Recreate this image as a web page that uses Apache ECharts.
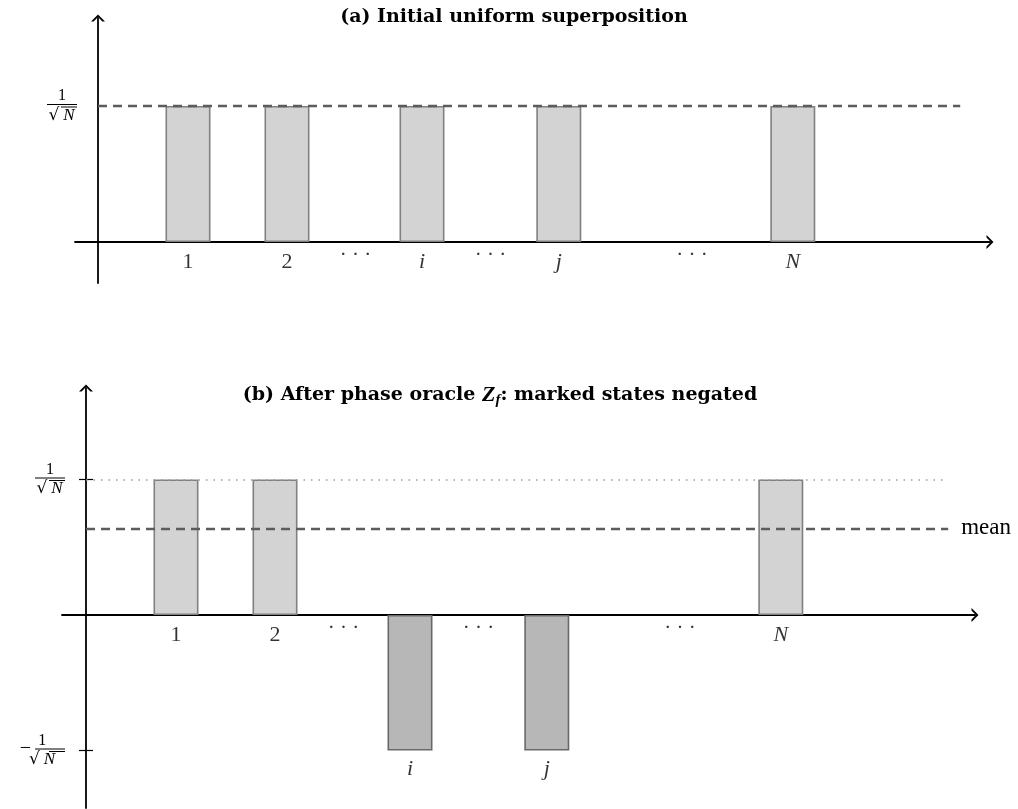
<!DOCTYPE html>
<html><head><meta charset="utf-8">
<script src="https://cdn.jsdelivr.net/npm/echarts@6/dist/echarts.min.js"></script>
<style>html,body{margin:0;padding:0;background:#fff}#c{width:1018px;height:809px}</style>
</head><body><div id="c"></div>
<script>
// ---- data ----
const categories = ['1', '2', 'i', 'j', 'N'];
const positions = [1, 2.1, 3.6, 5.12, 7.72];
const amplitudesA = [1, 1, 1, 1, 1];
const amplitudesB = [1, 1, -1, -1, 1];
const ellipsisPositions = [2.86, 4.36, 6.6];
const uniformLevel = 1;
const meanLevel = 0.64;
const yTickValuesA = [1];
const yTickValuesB = [1, -1];
const titleA = '(a) Initial uniform superposition';
const titleB = ['(b) After phase oracle ', 'Z', 'f', ': marked states negated'];
const meanLabel = 'mean';

// ---- style / layout ----
const SERIF = 'Liberation Serif';
const TSERIF = 'DejaVu Serif';
const LINE_END = 9.58, DOT_END = 9.52;
const PA = {left: 75, top: 18, width: 915, height: 265, xMin: -23/90, xMax: 892/90, yMin: -41/136, yMax: 224/136, yOff: -23};
const PB = {left: 62, top: 388, width: 913, height: 420, xMin: -24/90, xMax: 889/90, yMin: -193/135.5, yMax: 227/135.5, yOff: -24};
const arrow = 'path://M0 7 L7 0 L14 7 L11.4 7 L7 2.6 L2.6 7 Z';
const axisLine = {show: true, onZero: true, symbol: ['none', arrow], symbolSize: [14, 7], lineStyle: {color: '#000', width: 1.8}};
const lightBar = {color: '#d3d3d3', borderColor: '#808080', borderWidth: 1.6};
const darkBar = {color: '#b7b7b7', borderColor: '#686868', borderWidth: 1.6};

const fracRich = {
  n: {fontFamily: SERIF, fontSize: 16, width: 30, align: 'center', lineHeight: 14, color: '#000'},
  bar: {width: 30, height: 1, backgroundColor: '#000', lineHeight: 3},
  sp: {width: 14, height: 1, lineHeight: 2},
  ov: {width: 16, height: 1, backgroundColor: '#000', lineHeight: 2},
  r: {fontFamily: 'DejaVu Serif', fontSize: 17, width: 14, align: 'right', lineHeight: 15, color: '#000'},
  v: {fontFamily: SERIF, fontSize: 17, fontStyle: 'italic', width: 16, align: 'left', lineHeight: 15, color: '#000'},
  m: {fontFamily: SERIF, fontSize: 20, lineHeight: 3, padding: [0, 4, 0, 0], color: '#000'}
};
function fracLabel(v) {
  return '{n|1}\n' + (v < 0 ? '{m|−}' : '') + '{bar|}\n{sp|}{ov|}\n{r|√}{v|N}';
}
const labelRich = {
  up: {fontFamily: SERIF, fontSize: 22, color: '#000'},
  it: {fontFamily: SERIF, fontSize: 22, fontStyle: 'italic', color: '#000'},
  dots: {fontFamily: SERIF, fontSize: 21, color: '#000'}
};
function catText(c) { return /[A-Za-z]/.test(c) ? '{it|' + c + '}' : '{up|' + c + '}'; }

function barData(amps) {
  return positions.map((p, k) => ({value: [p, amps[k]], itemStyle: amps[k] < 0 ? darkBar : lightBar}));
}
function labelData(amps) {
  return positions.map((p, k) => ({value: [p, Math.min(0, amps[k])], name: categories[k],
    label: {offset: [0, amps[k] < 0 ? 19 : 20]}}));
}
function dotsData() { return ellipsisPositions.map(p => ({value: [p, 0], name: '· · ·'})); }

function xAx(P, gi) {
  return {type: 'value', gridIndex: gi, min: P.xMin, max: P.xMax, axisLine: Object.assign({}, axisLine),
    axisTick: {show: false}, axisLabel: {show: false}, splitLine: {show: false}};
}
function yAx(P, gi, ticks, showTick) {
  return {type: 'value', gridIndex: gi, min: P.yMin, max: P.yMax, position: 'left', offset: P.yOff,
    axisLine: Object.assign({}, axisLine, {onZero: false}),
    axisTick: {show: showTick, customValues: ticks, length: 7, inside: false, lineStyle: {color: '#000', width: 1.2}},
    axisLabel: {show: true, customValues: ticks, margin: 21, formatter: fracLabel, rich: fracRich},
    splitLine: {show: false}};
}
function labelSeries(xi, data) {
  return {type: 'scatter', xAxisIndex: xi, yAxisIndex: xi === 0 ? 0 : 1, data: data, symbol: 'circle', symbolSize: 1,
    itemStyle: {color: 'rgba(0,0,0,0)'}, silent: true, z: 5,
    label: {show: true, position: 'inside', formatter: p => catText(p.name), rich: labelRich}};
}
function dotsSeries(xi) {
  return Object.assign(labelSeries(xi, dotsData()),
    {label: {show: true, position: 'inside', offset: [0, 13], formatter: p => '{dots|' + p.name + '}', rich: labelRich}});
}
const dashStyle = {type: [9, 6], color: '#5c5c5c', width: 2.3};
const titleStyle = {fontFamily: TSERIF, fontWeight: 'bold', fontSize: 19, color: '#000'};

const option = {
  animation: false,
  backgroundColor: '#fff',
  title: [
    {text: titleA, left: 514, top: 8, textAlign: 'center', padding: 0, textStyle: titleStyle},
    {text: '{t|' + titleB[0] + '}{z|' + titleB[1] + '}{s|' + titleB[2] + '}{t|' + titleB[3] + '}', left: 500, top: 383, textAlign: 'center', padding: 0,
     textStyle: {rich: {
       t: titleStyle,
       z: {fontFamily: SERIF, fontStyle: 'italic', fontSize: 22, color: '#000'},
       s: {fontFamily: SERIF, fontStyle: 'italic', fontSize: 15, color: '#000', padding: [10, 0, 0, 0]}
     }}}
  ],
  grid: [
    {left: PA.left, top: PA.top, width: PA.width, height: PA.height, outerBoundsMode: 'none', containLabel: false},
    {left: PB.left, top: PB.top, width: PB.width, height: PB.height, outerBoundsMode: 'none', containLabel: false}
  ],
  xAxis: [xAx(PA, 0), xAx(PB, 1)],
  yAxis: [
    yAx(PA, 0, yTickValuesA, false),
    yAx(PB, 1, yTickValuesB, true),
    Object.assign(yAx(PB, 1, yTickValuesB, true), {axisLine: {show: false, onZero: false}, axisLabel: {show: false},
      axisTick: {show: true, customValues: yTickValuesB, length: 7, inside: true, lineStyle: {color: '#000', width: 1.2}}})
  ],
  series: [
    {type: 'bar', xAxisIndex: 0, yAxisIndex: 0, barWidth: 45, data: barData(amplitudesA), silent: true,
     markLine: {silent: true, symbol: 'none', label: {show: false}, lineStyle: dashStyle,
       data: [[{coord: [0, uniformLevel]}, {coord: [LINE_END, uniformLevel]}]]}},
    labelSeries(0, labelData(amplitudesA)),
    dotsSeries(0),
    {type: 'bar', xAxisIndex: 1, yAxisIndex: 1, barWidth: 45, data: barData(amplitudesB), silent: true,
     markLine: {silent: true, symbol: 'none',
       data: [
         [{coord: [0, uniformLevel], lineStyle: {type: [1.5, 6], color: '#9a9a9a', width: 1.5}, label: {show: false}},
          {coord: [DOT_END, uniformLevel]}],
         [{coord: [0, meanLevel], lineStyle: dashStyle,
           label: {show: true, position: 'end', distance: 13, formatter: meanLabel, fontFamily: SERIF, fontSize: 23, color: '#000'}},
          {coord: [LINE_END, meanLevel]}]
       ]}},
    labelSeries(1, labelData(amplitudesB)),
    dotsSeries(1)
  ]
};
const chart = echarts.init(document.getElementById('c'), null, {renderer: 'canvas'});
chart.setOption(option);
</script></body></html>
